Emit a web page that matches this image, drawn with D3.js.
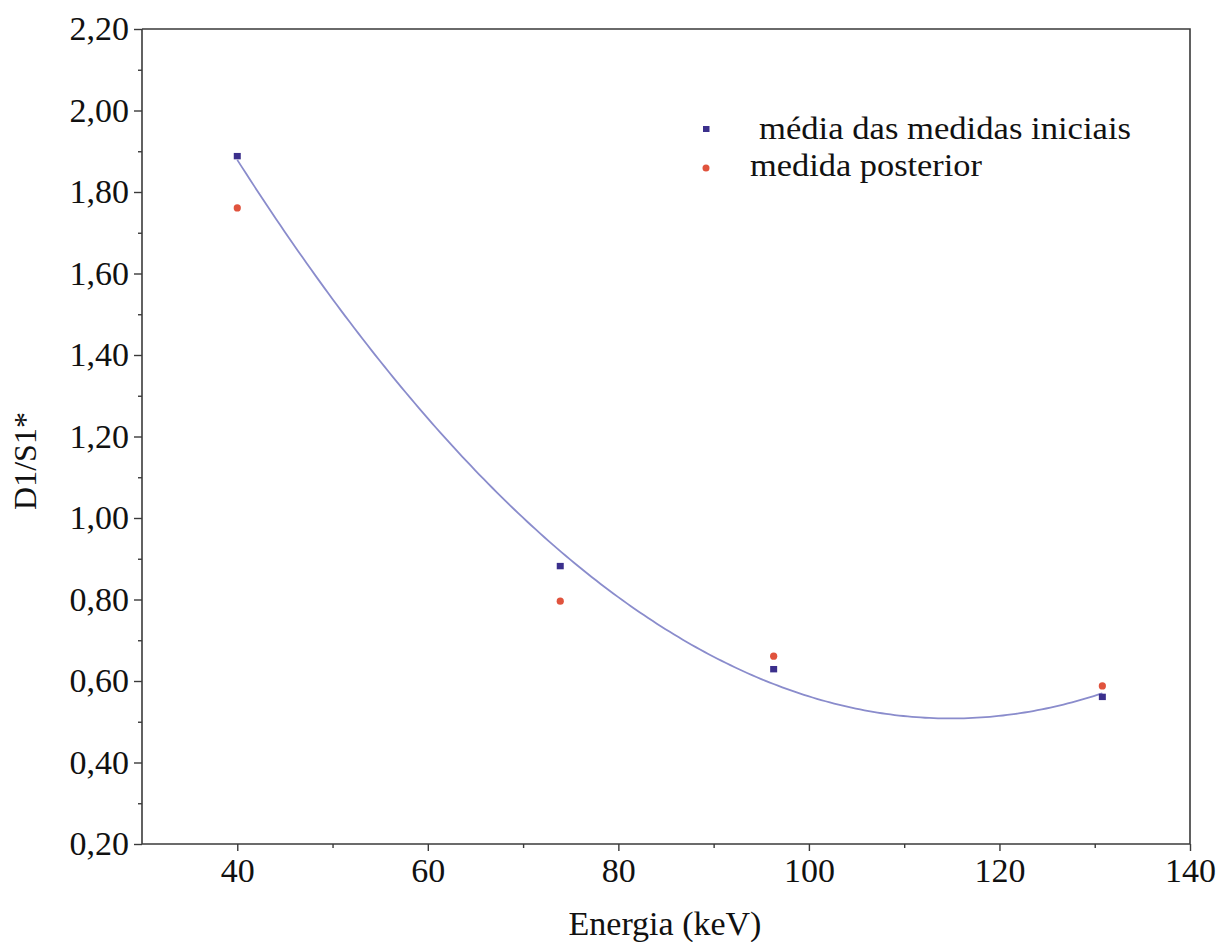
<!DOCTYPE html>
<html>
<head>
<meta charset="utf-8">
<script src="https://cdn.jsdelivr.net/npm/d3@7"></script>
<style>
  html, body { margin: 0; padding: 0; background: #fff; }
  svg { display: block; }
  svg text { font-family: "Liberation Serif", "Times New Roman", serif !important; fill: #111; }
</style>
</head>
<body>
<svg id="chart" width="1220" height="942"></svg>
<script>
// ---- data ----
const energia = [40, 73.9, 96.3, 130.8];
const mediaIniciais = [1.888, 0.882, 0.629, 0.561];
const medidaPosterior = [1.761, 0.796, 0.661, 0.588];
const xTicks = [40, 60, 80, 100, 120, 140];
const yTicks = [0.20, 0.40, 0.60, 0.80, 1.00, 1.20, 1.40, 1.60, 1.80, 2.00, 2.20];
const legendLabels = ["média das medidas iniciais", "medida posterior"];
const xTitle = "Energia (keV)";
const yTitle = "D1/S1*";

// ---- layout ----
const svg = d3.select("#chart");
const L = 142, R = 1190, T = 29, B = 844;
const x = d3.scaleLinear().domain([30, 140]).range([L, R]);
const y = d3.scaleLinear().domain([0.20, 2.20]).range([B, T]);
const fmt = v => v.toFixed(2).replace(".", ",");
const axisColor = "#3a3a3a";
const fontSize = 34;
const serif = "'Liberation Serif', 'Times New Roman', serif";

// frame (top and right)
svg.append("path")
  .attr("d", `M${L},${T}H${R}V${B}`)
  .attr("fill", "none").attr("stroke", axisColor).attr("stroke-width", 1.6);

// x axis
const gx = svg.append("g").attr("transform", `translate(0,${B})`)
  .call(d3.axisBottom(x).tickValues(xTicks).tickSize(7).tickPadding(8).tickFormat(d3.format("d")));
const gxm = svg.append("g").attr("transform", `translate(0,${B})`)
  .call(d3.axisBottom(x).tickValues(d3.range(50, 140, 20)).tickSize(4).tickFormat(""));
gxm.select(".domain").remove();

// y axis
const gy = svg.append("g").attr("transform", `translate(${L},0)`)
  .call(d3.axisLeft(y).tickValues(yTicks).tickSize(8).tickPadding(5).tickFormat(fmt));
const gym = svg.append("g").attr("transform", `translate(${L},0)`)
  .call(d3.axisLeft(y).tickValues(d3.range(0.30, 2.20, 0.20)).tickSize(4).tickFormat(""));
gym.select(".domain").remove();

[gx, gxm, gy, gym].forEach(g => {
  g.attr("font-family", serif);
  g.selectAll(".domain").attr("stroke", axisColor).attr("stroke-width", 1.6);
  g.selectAll(".tick line").attr("stroke", axisColor).attr("stroke-width", 1.4);
});
gx.selectAll(".domain").attr("d", `M${L},0H${R}`);
gy.selectAll(".domain").attr("d", `M0,${B}V${T}`);
gx.selectAll(".tick text")
  .style("font-family", serif)
  .attr("font-size", fontSize).attr("fill", "#111")
  .attr("dy", null).attr("y", 38);
gy.selectAll(".tick text")
  .style("font-family", serif)
  .attr("font-size", fontSize).attr("fill", "#111")
  .attr("x", -13);

// ---- quadratic least-squares fit of the initial measurements ----
function quadFit(xs, ys) {
  const n = xs.length;
  let S = [0, 0, 0, 0, 0], Sy = [0, 0, 0];
  for (let i = 0; i < n; i++) {
    for (let k = 0; k <= 4; k++) S[k] += Math.pow(xs[i], k);
    for (let k = 0; k <= 2; k++) Sy[k] += Math.pow(xs[i], k) * ys[i];
  }
  const M = [[S[0], S[1], S[2], Sy[0]], [S[1], S[2], S[3], Sy[1]], [S[2], S[3], S[4], Sy[2]]];
  for (let c = 0; c < 3; c++) {
    let p = c;
    for (let r = c + 1; r < 3; r++) if (Math.abs(M[r][c]) > Math.abs(M[p][c])) p = r;
    [M[c], M[p]] = [M[p], M[c]];
    for (let r = 0; r < 3; r++) {
      if (r === c) continue;
      const f = M[r][c] / M[c][c];
      for (let k = c; k < 4; k++) M[r][k] -= f * M[c][k];
    }
  }
  return [M[0][3] / M[0][0], M[1][3] / M[1][1], M[2][3] / M[2][2]];
}
const coef = quadFit(energia, mediaIniciais);
const xMin = d3.min(energia), xMax = d3.max(energia);
const fitPts = d3.range(0, 201).map(i => {
  const e = xMin + (xMax - xMin) * i / 200;
  return [e, coef[0] + coef[1] * e + coef[2] * e * e];
});
svg.append("path")
  .datum(fitPts)
  .attr("fill", "none").attr("stroke", "#8a8ccc").attr("stroke-width", 1.8)
  .attr("d", d3.line().x(d => x(d[0])).y(d => y(d[1])));

// ---- points ----
const blue = "#3b2f8c", red = "#e0533d";
svg.append("g").selectAll("circle")
  .data(energia.map((e, i) => [e, medidaPosterior[i]]))
  .join("circle")
  .attr("cx", d => x(d[0])).attr("cy", d => y(d[1])).attr("r", 3.6)
  .attr("fill", red);
svg.append("g").selectAll("rect")
  .data(energia.map((e, i) => [e, mediaIniciais[i]]))
  .join("rect")
  .attr("x", d => x(d[0]) - 3.5).attr("y", d => y(d[1]) - 3.2)
  .attr("width", 7).attr("height", 6.4)
  .attr("fill", blue);

// ---- legend ----
svg.append("rect").attr("x", 703).attr("y", 126).attr("width", 6.5).attr("height", 6).attr("fill", blue);
svg.append("text").style("font-family", serif).attr("x", 759).attr("y", 139).attr("font-size", 32)
  .attr("textLength", 372).attr("lengthAdjust", "spacingAndGlyphs").text(legendLabels[0]);
svg.append("circle").attr("cx", 706).attr("cy", 168).attr("r", 3.5).attr("fill", red);
svg.append("text").style("font-family", serif).attr("x", 750).attr("y", 176).attr("font-size", 32)
  .attr("textLength", 232).attr("lengthAdjust", "spacingAndGlyphs").text(legendLabels[1]);

// ---- axis titles ----
svg.append("text").style("font-family", serif).attr("x", 665).attr("y", 935).attr("text-anchor", "middle")
  .attr("font-size", fontSize).text(xTitle);
svg.append("text").style("font-family", serif).attr("transform", "translate(36,461) rotate(-90)")
  .attr("text-anchor", "middle").attr("font-size", 32).text(yTitle);
</script>
</body>
</html>
